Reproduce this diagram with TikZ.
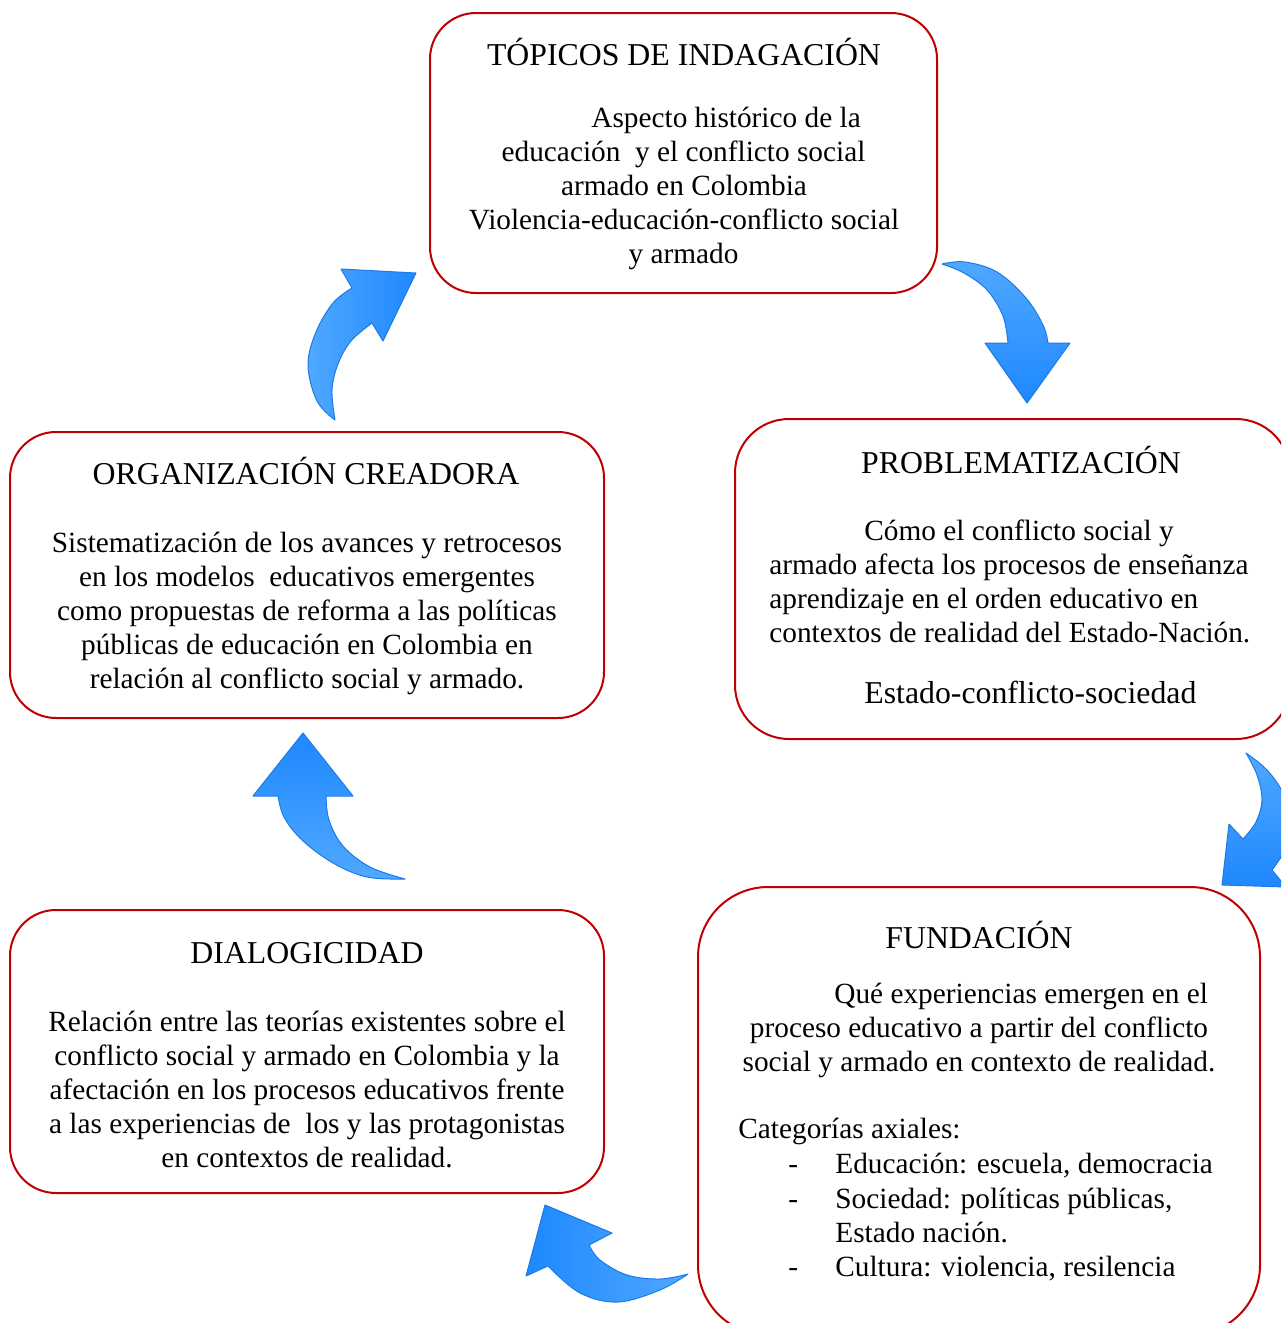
\documentclass[tikz,border=0pt]{standalone}
\usepackage{fontspec}
\setmainfont{Liberation Serif}
\definecolor{boxred}{RGB}{192,0,0}
\definecolor{arrowdark}{RGB}{30,136,255}
\definecolor{arrowlight}{RGB}{80,168,255}
\definecolor{arrowedge}{RGB}{28,122,230}
\begin{document}
\begin{tikzpicture}[x=0.5pt,y=-0.5pt,
  box/.style={draw=boxred, line width=1pt, rounded corners=#1, inner sep=0pt},
  body/.style={font=\fontsize{14.65}{17}\selectfont, inner sep=0pt, anchor=base},
  bodyw/.style={body, anchor=base west},
  ttl/.style={font=\fontsize{15.9}{18}\selectfont, inner sep=0pt, anchor=base},
  barrow/.style={draw=arrowedge, line width=0.5pt, line join=round}]
\useasboundingbox (0,0) rectangle (1281,1323);
\clip (0,0) rectangle (1281,1323);

% ---------- boxes ----------
\node[box=23pt, minimum width=253.5pt, minimum height=140pt] (topbox) at (683.5,153) {};
\node[box=27pt, minimum width=277.5pt, minimum height=160pt] (probbox) at (1012.5,579) {};
\node[box=35pt, minimum width=281pt, minimum height=224pt] (fundbox) at (979,1111) {};
\node[box=23pt, minimum width=297pt, minimum height=143pt] (orgbox) at (307,575) {};
\node[box=23pt, minimum width=297pt, minimum height=141.5pt] (dialbox) at (307,1051.5) {};

% ---------- TÓPICOS ----------
\node[ttl] (t0) at (684,65) {TÓPICOS DE INDAGACIÓN};
\node[bodyw] (t1) at (591,127) {Aspecto histórico de la};
\node[body] (t2) at (683.5,161) {educación\ \ y el conflicto social};
\node[body] (t3) at (684,195) {armado en Colombia};
\node[body] (t4) at (684,229) {Violencia-educación-conflicto social};
\node[body] (t5) at (683.5,263) {y armado};

% ---------- PROBLEMATIZACIÓN ----------
\node[ttl] (p0) at (1021,473) {PROBLEMATIZACIÓN};
\node[bodyw] (p1) at (864,540) {Cómo el conflicto social y};
\node[bodyw] (p2) at (769,574) {armado afecta los procesos de enseñanza};
\node[bodyw] (p3) at (769,608) {aprendizaje en el orden educativo en};
\node[bodyw] (p4) at (769,642) {contextos de realidad del Estado-Nación.};
\node[ttl, anchor=base west] (p5) at (864,703) {Estado-conflicto-sociedad};

% ---------- FUNDACIÓN ----------
\node[ttl] (f0) at (979,948) {FUNDACIÓN};
\node[bodyw] (f1) at (834,1003) {Qué experiencias emergen en el};
\node[body] (f2) at (979,1037) {proceso educativo a partir del conflicto};
\node[body] (f3) at (979,1071) {social y armado en contexto de realidad.};
\node[bodyw] (f4) at (738,1138) {Categorías axiales:};
\node[bodyw] (d1) at (788,1173) {-};
\node[bodyw] (d2) at (788,1208) {-};
\node[bodyw] (d3) at (788,1276) {-};
\node[bodyw] (f5) at (835,1173) {Educación: escuela, democracia};
\node[bodyw] (f6) at (835,1208) {Sociedad: políticas públicas,};
\node[bodyw] (f7) at (835,1242) {Estado nación.};
\node[bodyw] (f8) at (835,1276) {Cultura: violencia, resilencia};

% ---------- ORGANIZACIÓN CREADORA ----------
\node[ttl] (o0) at (306,484) {ORGANIZACIÓN CREADORA};
\node[body] (o1) at (307,552) {Sistematización de los avances y retrocesos};
\node[body] (o2) at (307,586) {en los modelos\ \ educativos emergentes};
\node[body] (o3) at (307,620) {como propuestas de reforma a las políticas};
\node[body] (o4) at (307,654) {públicas de educación en Colombia en};
\node[body] (o5) at (307,688) {relación al conflicto social y armado.};

% ---------- DIALOGICIDAD ----------
\node[ttl] (g0) at (307,963) {DIALOGICIDAD};
\node[body] (g1) at (307,1031) {Relación entre las teorías existentes sobre el};
\node[body] (g2) at (307,1065) {conflicto social y armado en Colombia y la};
\node[body] (g3) at (307,1099) {afectación en los procesos educativos frente};
\node[body] (g4) at (307,1133) {a las experiencias de\ \ los y las protagonistas};
\node[body] (g5) at (307,1167) {en contextos de realidad.};

% ---------- curved block arrows ----------
% top box -> problematización
\path[barrow, top color=arrowlight, bottom color=arrowdark]
  plot[smooth, tension=0.6] coordinates {(942,264) (965,262) (997,272) (1026,298) (1043,325) (1048,343)}
  -- (1070,343) -- (1027,403) -- (985,343) -- (1008,343)
  -- plot[smooth, tension=0.6] coordinates {(1008,343) (1003,316) (987,290) (964,273) (942,264)} -- cycle;

% problematización -> fundación
\path[barrow, top color=arrowlight, bottom color=arrowdark]
  plot[smooth, tension=0.6] coordinates {(1246,753) (1266,769) (1282,791) (1291,818) (1287,846) (1272,870)}
  -- (1286,887) -- (1222,885) -- (1229,824) -- (1243,839)
  -- plot[smooth, tension=0.6] coordinates {(1243,839) (1256,822) (1262,800) (1257,775) (1246,753)} -- cycle;

% fundación -> dialogicidad
\path[barrow, left color=arrowdark, right color=arrowlight]
  plot[smooth, tension=0.6] coordinates {(688,1274) (660,1290) (618,1302) (580,1293) (548,1266)}
  -- (526,1276) -- (545,1205) -- (612,1233) -- (589,1245)
  -- plot[smooth, tension=0.6] coordinates {(589,1245) (600,1260) (627,1275) (660,1279) (688,1274)} -- cycle;

% dialogicidad -> organización
\path[barrow, top color=arrowdark, bottom color=arrowlight]
  plot[smooth, tension=0.6] coordinates {(405,879) (367,877) (333,863) (302,840) (284,817) (278,796)}
  -- (253,796) -- (303,733) -- (353,796) -- (326,796)
  -- plot[smooth, tension=0.6] coordinates {(326,796) (329,820) (343,846) (370,867) (405,879)} -- cycle;

% organización -> tópicos
\path[barrow, right color=arrowdark, left color=arrowlight]
  plot[smooth, tension=0.6] coordinates {(335,420) (317,401) (308,365) (316,332) (333,303) (352,288)}
  -- (341,269) -- (416,273) -- (383,341) -- (372,323)
  -- plot[smooth, tension=0.6] coordinates {(372,323) (351,341) (338,364) (332,390) (335,420)} -- cycle;
\end{tikzpicture}
\end{document}
